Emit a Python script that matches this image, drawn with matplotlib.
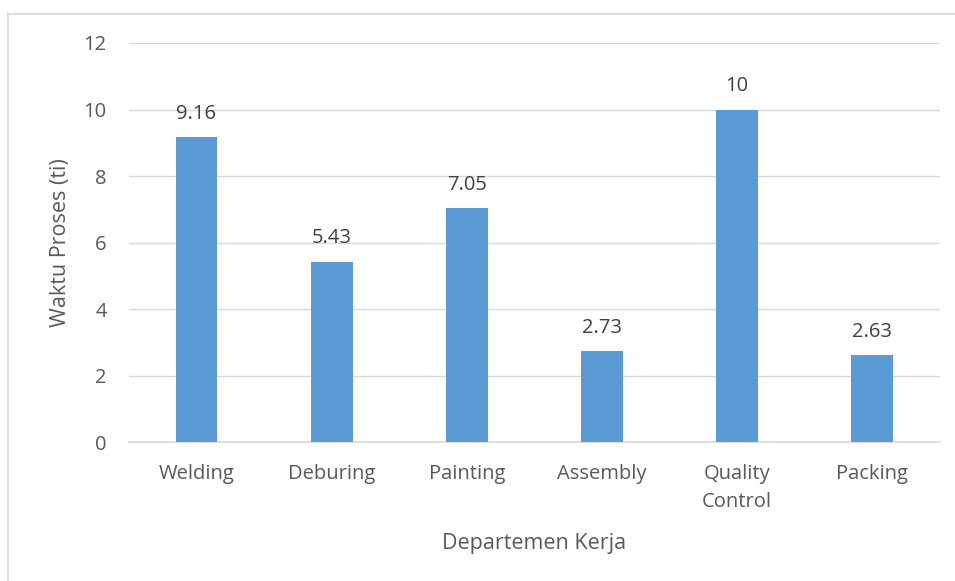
import matplotlib.pyplot as plt
from matplotlib.lines import Line2D

departemen = ['Welding', 'Deburing', 'Painting', 'Assembly', 'Quality\nControl', 'Packing']
waktu_proses = [9.16, 5.43, 7.05, 2.73, 10, 2.63]
y_ticks = [0, 2, 4, 6, 8, 10, 12]

bar_color = '#5B9BD5'
text_color = '#595959'
grid_color = '#D9D9D9'

plt.rcParams['font.family'] = ['Open Sans', 'DejaVu Sans']

fig = plt.figure(figsize=(9.55, 5.81), dpi=100)
ax = fig.add_axes([0.135, 0.239, 0.849, 0.687])

x = range(len(departemen))
bars = ax.bar(x, waktu_proses, width=0.31, color=bar_color, zorder=3)

# value on top of each bar
for rect, val in zip(bars, waktu_proses):
    ax.annotate(f'{val:g}', (rect.get_x() + rect.get_width() / 2, rect.get_height()),
                xytext=(0, 13), textcoords='offset points',
                ha='center', va='baseline', fontsize=14.5, color='#404040')

ax.set_ylim(0, 12)
ax.set_xlim(-0.5, len(departemen) - 0.5)
ax.set_yticks(y_ticks)
ax.set_xticks(list(x))
ax.set_xticklabels(departemen, linespacing=1.5)
ax.tick_params(axis='both', length=0, labelsize=14.5, colors=text_color)
ax.tick_params(axis='x', pad=16)
ax.tick_params(axis='y', pad=16)

ax.grid(axis='y', color=grid_color, linewidth=1, zorder=0)
for side in ['top', 'right', 'left']:
    ax.spines[side].set_visible(False)
ax.spines['bottom'].set_color(grid_color)
ax.spines['bottom'].set_linewidth(1.2)

ax.set_ylabel('Waktu Proses (ti)', fontsize=15.5, color=text_color, labelpad=9)
ax.set_xlabel('Departemen Kerja', fontsize=15.5, color=text_color, labelpad=15)

# light chart-area frame on the left and top
fig.add_artist(Line2D([0.008, 0.008], [0, 0.976], transform=fig.transFigure,
                      color=grid_color, linewidth=1.2))
fig.add_artist(Line2D([0.008, 1.0], [0.976, 0.976], transform=fig.transFigure,
                      color=grid_color, linewidth=1.2))

fig.savefig('out.png', dpi=100)
